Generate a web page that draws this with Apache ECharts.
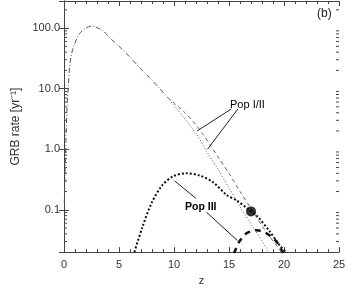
<!DOCTYPE html>
<html><head><meta charset="utf-8">
<script src="https://cdn.jsdelivr.net/npm/echarts@6/dist/echarts.min.js"></script>
<style>html,body{margin:0;padding:0;background:#fff}#c{width:359px;height:291px}</style>
</head><body><div id="c"></div>
<script>
// Pop I/II total (dash-dot), then two branches (dotted / dashed)
var popI_main = [[0.03,0.13],[0.12,0.6],[0.2,2],[0.3,6],[0.4,12],[0.55,27],[0.75,42],[1.0,57],[1.4,80],[1.9,98],[2.5,108],[3.5,91],[4.2,68],[5.0,50],[6.0,33],[7.0,21],[7.8,15],[8.6,10.5],[9.4,7.2]];
var popI_dotted = [[9.4,7.2],[10.1,5.0],[10.8,3.5],[11.5,2.4],[12.2,1.6],[13.0,0.9],[14.0,0.47],[15.0,0.23],[16.1,0.105],[17.3,0.048],[18.5,0.022],[18.7,0.019]];
var popI_dashed = [[9.4,7.2],[10.2,5.4],[11.0,4.0],[11.8,2.8],[12.6,1.8],[13.4,1.1],[14.1,0.7],[15.0,0.4],[16.0,0.2],[17.0,0.105],[18.3,0.045],[19.6,0.022],[19.8,0.019]];
// Pop III
var popIII_dotted = [[6.4,0.02],[7.1,0.05],[7.95,0.128],[8.9,0.25],[9.9,0.355],[11.1,0.40],[12.3,0.37],[13.5,0.29],[14.8,0.175],[15.7,0.143],[17.0,0.094],[17.5,0.081],[18.7,0.044],[19.6,0.026],[20.3,0.019]];
var popIII_dashed = [[15.45,0.019],[15.95,0.030],[16.6,0.041],[17.5,0.046],[18.4,0.041],[19.3,0.030],[19.95,0.019]];
var marker = [[17.0,0.094]];
// pointer lines for labels
var ptrPopI_a = [[15.2,4.6],[12.1,2.0]];
var ptrPopI_b = [[15.8,4.6],[13.05,1.0]];
var ptrPopIII_a = [[10.05,0.30],[12.0,0.154]];
var ptrPopIII_b = [[12.95,0.091],[15.77,0.031]];
var xTicks = [0,5,10,15,20,25];
var yTickLabels = ['0.1','1.0','10.0','100.0'];

var minorVals = [];
[0.01,0.1,1,10,100].forEach(function(d){for(var k=2;k<=9;k++){var v=+(d*k).toPrecision(3); if(v>0.02&&v<280) minorVals.push(v);}});

var chart = echarts.init(document.getElementById('c'));
var axisCol = '#444';
var font = 'Liberation Sans, Arial, sans-serif';
function lineS(data, type, width, color){
  return {type:'line', data:data, showSymbol:false, symbol:'none', smooth:0.3, silent:true,
    lineStyle:{type:type, width:width, color:color}, clip:true, z:3};
}
function ptr(data){return {type:'line', data:data, showSymbol:false, symbol:'none', silent:true, lineStyle:{width:1, color:'#222'}, z:4};}
chart.setOption({
  animation:false,
  backgroundColor:'#fff',
  grid:{left:64, right:20, top:1, bottom:38},
  xAxis:[{type:'value', min:0, max:25, interval:5, position:'bottom',
      axisLine:{lineStyle:{color:axisCol}}, splitLine:{show:false},
      axisTick:{inside:true, length:5, lineStyle:{color:axisCol}},
      minorTick:{show:true, splitNumber:5, length:3, lineStyle:{color:axisCol}},
      axisLabel:{color:'#333', fontSize:11, fontFamily:font, margin:7},
      name:'z', nameLocation:'middle', nameGap:21, nameTextStyle:{color:'#333', fontSize:11, fontFamily:font}},
    {type:'value', min:0, max:25, interval:5, position:'top',
      axisLine:{lineStyle:{color:axisCol}}, splitLine:{show:false},
      axisTick:{inside:true, length:5, lineStyle:{color:axisCol}},
      minorTick:{show:true, splitNumber:5, length:3, lineStyle:{color:axisCol}},
      axisLabel:{show:false}}],
  yAxis:[{type:'log', min:0.02, max:280, position:'left',
      axisLine:{show:true, lineStyle:{color:axisCol}}, splitLine:{show:false},
      axisTick:{inside:true, length:5, lineStyle:{color:axisCol}},
      axisLabel:{color:'#333', fontSize:11, fontFamily:font, margin:4,
        formatter:function(v){var l=Math.log10(v); if(Math.abs(l-Math.round(l))>1e-6) return ''; var i=Math.round(l)+1; return yTickLabels[i]||'';}},
      name:'GRB rate [yr⁻¹]', nameLocation:'middle', nameGap:38, nameTextStyle:{color:'#333', fontSize:12, fontFamily:font}},
    {type:'log', min:0.02, max:280, position:'right',
      axisLine:{show:true, lineStyle:{color:axisCol}}, splitLine:{show:false},
      axisTick:{inside:true, length:5, lineStyle:{color:axisCol}},
      axisLabel:{show:false}}],
  series:[
    lineS(popI_main, [5,2,1,2], 1, '#555'),
    lineS(popI_dotted, [1,2], 1, '#555'),
    lineS(popI_dashed, [4,3], 1, '#666'),
    lineS(popIII_dotted, [2,2], 2, '#111'),
    lineS(popIII_dashed, [6,5], 2.5, '#111'),
    {type:'scatter', data:marker, symbol:'circle', symbolSize:10, itemStyle:{color:'#000'}, silent:true, z:5},
    ptr(ptrPopI_a), ptr(ptrPopI_b), ptr(ptrPopIII_a), ptr(ptrPopIII_b),
    {type:'custom', silent:true, clip:false, data:minorVals.map(function(v){return [0,v];}),
      renderItem:function(params, api){
        var y = api.coord([0, api.value(1)])[1]; var cs = params.coordSys;
        return {type:'group', children:[
          {type:'line', shape:{x1:cs.x, y1:y, x2:cs.x+3, y2:y}, style:{stroke:axisCol, lineWidth:1}},
          {type:'line', shape:{x1:cs.x+cs.width, y1:y, x2:cs.x+cs.width-3, y2:y}, style:{stroke:axisCol, lineWidth:1}}]};
      }}
  ],
  graphic:[
    {type:'text', left:317, top:8, style:{text:'(b)', fill:'#222', font:'12px '+font}},
    {type:'text', left:230, top:99, style:{text:'Pop I/II', fill:'#000', font:'11px '+font}},
    {type:'text', left:185, top:202, style:{text:'Pop III', fill:'#000', font:'bold 10.5px '+font}}
  ]
});
</script></body></html>
